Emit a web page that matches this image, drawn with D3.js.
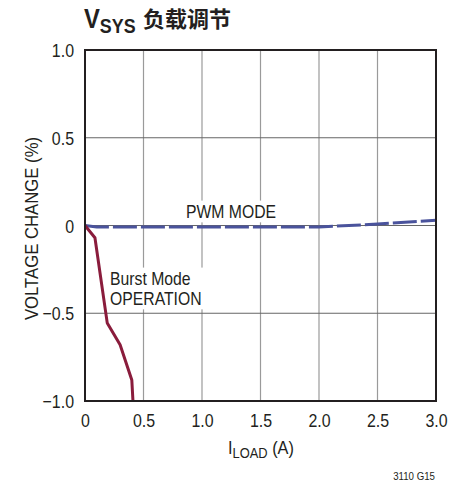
<!DOCTYPE html>
<html>
<head>
<meta charset="utf-8">
<script src="https://cdn.jsdelivr.net/npm/d3@7"></script>
<style>
  html, body { margin: 0; padding: 0; background: #fff; }
  svg { display: block; }
  text { font-family: "Liberation Sans", Arial, sans-serif; fill: #231f20; }
</style>
</head>
<body>
<svg id="chart" width="466" height="487"></svg>
<script>
// Load current (A)
const xTicks = [0, 0.5, 1.0, 1.5, 2.0, 2.5, 3.0];
const xTickLabels = ["0", "0.5", "1.0", "1.5", "2.0", "2.5", "3.0"];
// Voltage change (%)
const yTicks = [1.0, 0.5, 0, -0.5, -1.0];
const yTickLabels = ["1.0", "0.5", "0", "\u22120.5", "\u22121.0"];

// Burst Mode operation
const burstLoad   = [0, 0.085, 0.19, 0.30, 0.40, 0.41];
const burstChange = [0, -0.07, -0.555, -0.68, -0.88, -1.0];

// PWM mode
const pwmLoad   = [0, 0.1, 0.5, 1.0, 1.5, 2.0, 2.5, 3.0];
const pwmChange = [0, -0.008, -0.008, -0.008, -0.008, -0.008, 0.008, 0.03];

const NARROW = 0.84; // horizontal squeeze giving a condensed face

const svg = d3.select("#chart");
const m = { left: 85, right: 436, top: 50, bottom: 401 };

const x = d3.scaleLinear().domain([0, 3]).range([m.left, m.right]);
const y = d3.scaleLinear().domain([-1, 1]).range([m.bottom, m.top]);

// condensed text placed at (px, py)
function ntext(parent, px, py, k = NARROW) {
  return parent.append("g").attr("transform", `translate(${px},${py}) scale(${k},1)`)
    .append("text").attr("x", 0).attr("y", 0);
}

// grid
const grid = svg.append("g");
grid.selectAll("line.v").data(xTicks.slice(1, -1)).enter().append("line")
  .attr("x1", d => x(d)).attr("x2", d => x(d))
  .attr("y1", m.top).attr("y2", m.bottom)
  .attr("stroke", "#9a9a9a").attr("stroke-width", 1.2);
grid.selectAll("line.h").data(yTicks.slice(1, -1)).enter().append("line")
  .attr("y1", d => y(d)).attr("y2", d => y(d))
  .attr("x1", m.left).attr("x2", m.right)
  .attr("stroke", "#666").attr("stroke-width", 1.2);

// axes (labels only, frame drawn separately)
const xAxis = d3.axisBottom(x).tickValues(xTicks).tickSize(0).tickPadding(0)
  .tickFormat((d, i) => xTickLabels[i]);
const gx = svg.append("g").attr("transform", `translate(0,${m.bottom})`).call(xAxis);
gx.select(".domain").remove();
gx.selectAll("text").attr("dy", null).attr("y", 26).attr("transform", `scale(${NARROW},1)`)
  .style("font-size", "19px").style("font-family", "Liberation Sans").style("fill", "#231f20");

const yAxis = d3.axisLeft(y).tickValues(yTicks).tickSize(0).tickPadding(0)
  .tickFormat((d, i) => yTickLabels[i]);
const gy = svg.append("g").attr("transform", `translate(${m.left},0)`).call(yAxis);
gy.select(".domain").remove();
gy.selectAll("text").attr("x", -11 / NARROW).attr("dy", "0.35em").attr("transform", `scale(${NARROW},1)`)
  .style("font-size", "19px").style("font-family", "Liberation Sans").style("fill", "#231f20");

// text labels with white backing
function label(lines, xPos, yPos, lh) {
  const g = svg.append("g");
  const t = ntext(g, xPos, yPos, 0.83).style("font-size", "19px");
  lines.forEach((s, i) => t.append("tspan").attr("x", 0).attr("dy", i ? lh : 0).text(s));
  const b = t.node().getBBox();
  d3.select(t.node().parentNode).insert("rect", "text")
    .attr("x", b.x - 2).attr("y", b.y).attr("width", b.width + 4)
    .attr("height", b.height).attr("fill", "#fff");
}
label(["PWM MODE"], 186, 218, 0);
label(["Burst Mode", "OPERATION"], 110, 285, 20);

// curves
const line = d3.line().x(d => x(d[0])).y(d => y(d[1]));
svg.append("path")
  .datum(pwmLoad.map((v, i) => [v, pwmChange[i]]))
  .attr("d", line).attr("fill", "none")
  .attr("stroke", "#4a539c").attr("stroke-width", 3)
  .attr("stroke-dasharray", "24,4");
svg.append("path")
  .datum(burstLoad.map((v, i) => [v, burstChange[i]]))
  .attr("d", line).attr("fill", "none")
  .attr("stroke", "#8a1c3c").attr("stroke-width", 3).attr("stroke-linejoin", "round");

// frame
svg.append("rect").attr("x", m.left).attr("y", m.top)
  .attr("width", m.right - m.left).attr("height", m.bottom - m.top)
  .attr("fill", "none").attr("stroke", "#231f20").attr("stroke-width", 2);

// title
const title = ntext(svg, 84, 28, 0.85).style("font-weight", "bold");
title.append("tspan").style("font-size", "28px").text("V");
title.append("tspan").attr("dy", 5).style("font-size", "21px").text("SYS");
svg.append("text").attr("x", 143).attr("y", 27).style("font-weight", "bold")
  .style("font-size", "22px").style("font-family", "'Noto Sans CJK SC', sans-serif").text("负载调节");

// axis titles
const xt = ntext(svg, 228, 454, 0.86).style("font-size", "19px");
xt.append("tspan").text("I");
xt.append("tspan").attr("dy", 4).style("font-size", "15px").text("LOAD");
xt.append("tspan").attr("dy", -4).text(" (A)");

svg.append("g").attr("transform", `translate(38,${(m.top + m.bottom) / 2 + 3}) rotate(-90) scale(0.88,1)`)
  .append("text").attr("text-anchor", "middle").style("font-size", "19px").text("VOLTAGE CHANGE (%)");

ntext(svg, 435, 480, 0.88).attr("text-anchor", "end")
  .style("font-size", "11px").text("3110 G15");
</script>
</body>
</html>
